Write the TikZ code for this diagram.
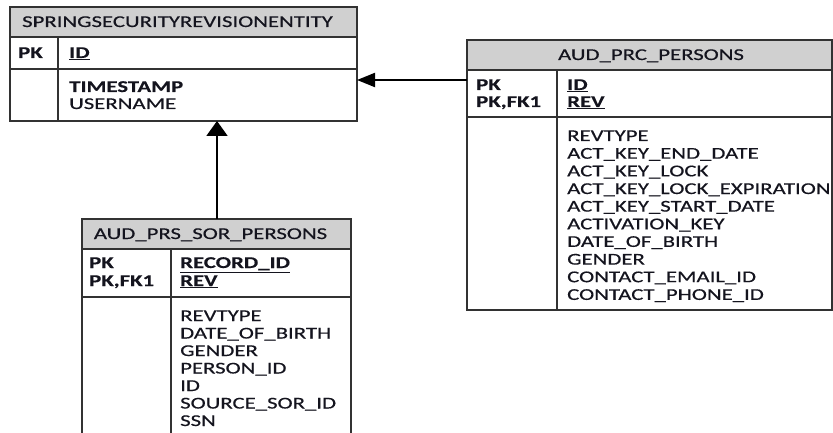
\documentclass[tikz,border=0pt]{standalone}
\usepackage{fontspec}
\setmainfont{Carlito}[FakeStretch=1.38, FakeBold=0.5, BoldFeatures={FakeBold=0.3}]
\usetikzlibrary{arrows.meta}
\definecolor{hdrgray}{RGB}{208,208,208}
\definecolor{txtcol}{RGB}{20,20,30}
\definecolor{linecol}{RGB}{50,50,50}
\newcommand\ulx[1]{\underline{#1}}
\tikzset{
  tbl/.style={draw=linecol, line width=1.3pt, anchor=north west, inner sep=0pt, outer sep=0pt},
  hdr/.style={tbl, fill=hdrgray},
  sep/.style={draw=linecol, line width=1.3pt},
  txt/.style={anchor=base west, inner sep=0pt, text=txtcol, font=\fontsize{16.5}{17.6}\selectfont},
  bld/.style={txt, font=\fontsize{16.5}{17.6}\selectfont\bfseries},
  ttl/.style={anchor=base, inner sep=0pt, text=txtcol, font=\fontsize{16.5}{17.6}\selectfont},
  conn/.style={draw=black, line width=2pt},
}
\begin{document}
\begin{tikzpicture}[x=1pt,y=-1pt]
\useasboundingbox (0,0) rectangle (833,433);
% ---------- Box 1 ----------
\node[tbl, minimum width=347pt, minimum height=114pt] (s1) at (10,7) {};
\node[hdr, minimum width=347pt, minimum height=30pt] (s1h) at (10,7) {};
\draw[sep] (10,69) -- (357,69);
\draw[sep] (58,37) -- (58,121);
\node[ttl] (s1t) at (177.5,27) {SPRINGSECURITYREVISIONENTITY};
\node[bld] (s1pk) at (18,58) {PK};
\node[bld] (s1id) at (69,58) {\ulx{ID}};
\node[bld] (s1f1) at (69,92) {TIMESTAMP};
\node[txt] (s1f2) at (69,109) {USERNAME};
% ---------- Box 2 ----------
\node[tbl, minimum width=365pt, minimum height=270pt] (p2) at (467,40) {};
\node[hdr, minimum width=365pt, minimum height=30pt] (p2h) at (467,40) {};
\draw[sep] (467,117) -- (832,117);
\draw[sep] (557,70) -- (557,310);
\node[ttl] (p2t) at (651,60) {AUD\_PRC\_PERSONS};
\node[bld] (p2pk1) at (476,90) {PK};
\node[bld] (p2pk2) at (476,107) {PK,FK1};
\node[bld] (p2k1) at (567,90) {\ulx{ID}};
\node[bld] (p2k2) at (567,107) {\ulx{REV}};
\node[txt] (p2f1) at (567,141) {REVTYPE};
\node[txt] (p2f2) at (567,158.7) {ACT\_KEY\_END\_DATE};
\node[txt] (p2f3) at (567,176.3) {ACT\_KEY\_LOCK};
\node[txt] (p2f4) at (567,194) {ACT\_KEY\_LOCK\_EXPIRATION};
\node[txt] (p2f5) at (567,211.6) {ACT\_KEY\_START\_DATE};
\node[txt] (p2f6) at (567,229.3) {ACTIVATION\_KEY};
\node[txt] (p2f7) at (567,246.9) {DATE\_OF\_BIRTH};
\node[txt] (p2f8) at (567,264.6) {GENDER};
\node[txt] (p2f9) at (567,282.2) {CONTACT\_EMAIL\_ID};
\node[txt] (p2f10) at (567,299.9) {CONTACT\_PHONE\_ID};
% ---------- Box 3 ----------
\node[tbl, minimum width=269pt, minimum height=240pt] (r3) at (82,219) {};
\node[hdr, minimum width=269pt, minimum height=30pt] (r3h) at (82,219) {};
\draw[sep] (82,297) -- (351,297);
\draw[sep] (171,249) -- (171,459);
\node[ttl] (r3t) at (210.5,239) {AUD\_PRS\_SOR\_PERSONS};
\node[bld] (r3pk1) at (89,268) {PK};
\node[bld] (r3pk2) at (89,286) {PK,FK1};
\node[bld] (r3k1) at (180,268) {\ulx{RECORD\_ID}};
\node[bld] (r3k2) at (180,286) {\ulx{REV}};
\node[txt] (r3f1) at (180,321) {REVTYPE};
\node[txt] (r3f2) at (180,338.5) {DATE\_OF\_BIRTH};
\node[txt] (r3f3) at (180,356) {GENDER};
\node[txt] (r3f4) at (180,373.5) {PERSON\_ID};
\node[txt] (r3f5) at (180,391) {ID};
\node[txt] (r3f6) at (180,408.5) {SOURCE\_SOR\_ID};
\node[txt] (r3f7) at (180,426) {SSN};
% ---------- Connectors ----------
\draw[conn, -{Triangle[length=18pt, width=14pt]}] (p2.west |- 0,80) -- (s1.east |- 0,80);
\draw[conn, -{Triangle[length=15pt, width=21pt]}] (r3.north -| 217,0) -- (s1.south -| 217,0);
\end{tikzpicture}
\end{document}
